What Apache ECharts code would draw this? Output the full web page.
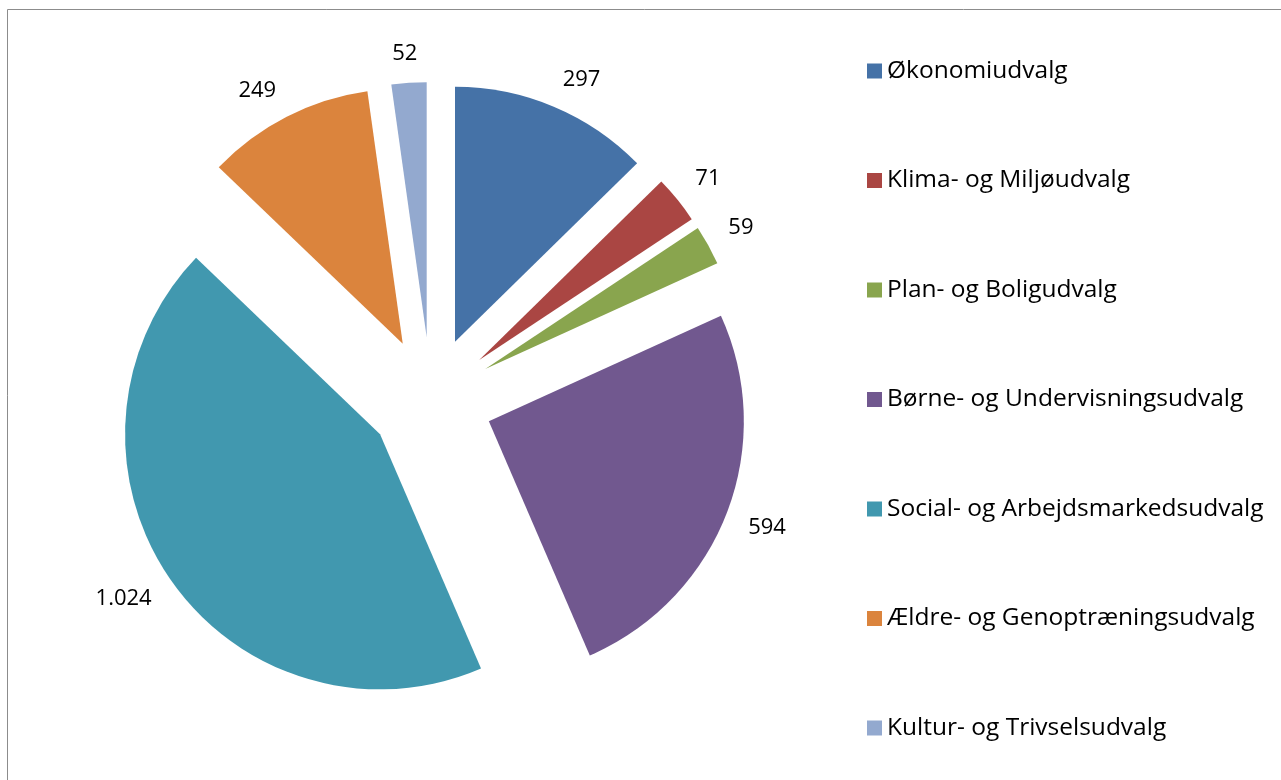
<!DOCTYPE html>
<html>
<head>
<meta charset="utf-8">
<script src="https://cdn.jsdelivr.net/npm/echarts@6/dist/echarts.min.js"></script>
<style>
html,body{margin:0;padding:0;background:#fff;}
#chart{width:1281px;height:780px;}
</style>
</head>
<body>
<div id="chart"></div>
<script>
const categories = [
  'Økonomiudvalg',
  'Klima- og Miljøudvalg',
  'Plan- og Boligudvalg',
  'Børne- og Undervisningsudvalg',
  'Social- og Arbejdsmarkedsudvalg',
  'Ældre- og Genoptræningsudvalg',
  'Kultur- og Trivselsudvalg'
];
const values = [297, 71, 59, 594, 1024, 249, 52];
const labels = ['297', '71', '59', '594', '1.024', '249', '52'];
const colors = ['#4572A7', '#AA4643', '#89A54E', '#71588F', '#4198AF', '#DB843D', '#93A9CF'];

const FONT = 'Open Sans';
const R = 255;
const CENTER = [431, 399];
const OFFSET = 62;

// mid angles (clockwise from 12 o'clock) derived from the values
const total = values.reduce((a, b) => a + b, 0);
const midAngles = [];
{
  let acc = 0;
  values.forEach(v => { midAngles.push((acc + v / 2) / total * 2 * Math.PI); acc += v; });
}
const clamp1 = v => Math.max(-1, Math.min(1, v));

const mainData = categories.map((c, i) => ({
  name: c, value: values[i], selected: true,
  itemStyle: { color: colors[i] }
}));
const labelData = categories.map((c, i) => ({
  name: c, value: values[i], selected: true,
  label: { formatter: labels[i] }
}));

const chart = echarts.init(document.getElementById('chart'), null, { renderer: 'canvas' });
chart.setOption({
  animation: false,
  backgroundColor: '#ffffff',
  graphic: [{
    type: 'rect',
    shape: { x: 7.5, y: 9.5, width: 1300, height: 800 },
    style: { fill: 'none', stroke: '#8c8c8c', lineWidth: 1 },
    silent: true
  }],
  legend: {
    orient: 'vertical',
    left: 862,
    top: 52,
    itemWidth: 15,
    itemHeight: 15,
    itemGap: 81.5,
    icon: 'rect',
    data: categories,
    textStyle: { fontFamily: FONT, fontSize: 24.5, color: '#000', lineHeight: 28 },
    selectedMode: false
  },
  series: [{
    type: 'pie',
    center: CENTER,
    radius: [0, R],
    startAngle: 90,
    clockwise: true,
    selectedMode: 'multiple',
    selectedOffset: OFFSET,
    avoidLabelOverlap: false,
    label: { show: false },
    labelLine: { show: false },
    emphasis: { disabled: true },
    itemStyle: { borderWidth: 0 },
    data: mainData
  }, {
    type: 'pie',
    center: CENTER,
    radius: [R + 10, R + 30],
    startAngle: 90,
    clockwise: true,
    selectedMode: 'multiple',
    selectedOffset: OFFSET,
    avoidLabelOverlap: false,
    silent: true,
    itemStyle: { color: 'rgba(0,0,0,0)', borderWidth: 0 },
    label: {
      show: true, position: 'inside',
      fontFamily: FONT, fontSize: 22, color: '#000'
    },
    labelLine: { show: false },
    labelLayout: function (params) {
      const th = midAngles[params.dataIndex];
      const w = params.labelRect.width;
      return {
        dx: (w / 2) * clamp1(3 * Math.sin(th)),
        dy: -6 * clamp1(3 * Math.cos(th))
      };
    },
    emphasis: { disabled: true },
    data: labelData
  }]
});
</script>
</body>
</html>
